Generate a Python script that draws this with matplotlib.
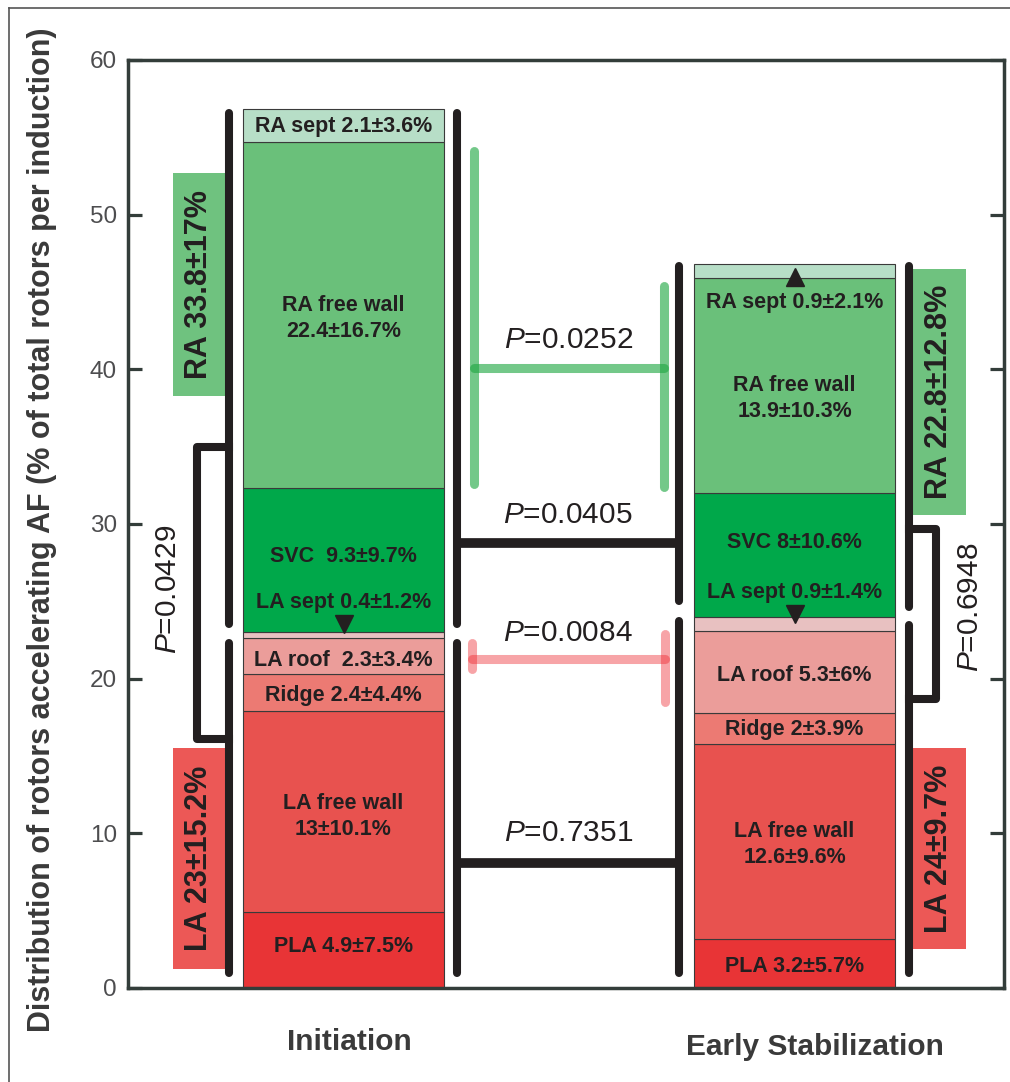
import matplotlib
matplotlib.use('Agg')
import matplotlib.pyplot as plt
from matplotlib.lines import Line2D

plt.rcParams['font.family'] = ['Liberation Sans', 'DejaVu Sans']
plt.rcParams['mathtext.fontset'] = 'custom'
plt.rcParams['mathtext.it'] = 'Liberation Sans:italic'
plt.rcParams['mathtext.rm'] = 'Liberation Sans'

# stacked segments, bottom to top
segments = ['PLA', 'LA free wall', 'Ridge', 'LA roof', 'LA sept', 'SVC', 'RA free wall', 'RA sept']
initiation = [4.9, 13, 2.4, 2.3, 0.4, 9.3, 22.4, 2.1]
early_stab = [3.2, 12.6, 2.0, 5.3, 0.9, 8.0, 13.9, 0.9]
seg_colors = ['#e83436', '#e8524f', '#ec7a73', '#eb9d9a', '#e8c1c1', '#00a84a', '#6ac07a', '#b7dec7']

init_labels = ['PLA 4.9±7.5%', 'LA free wall\n13±10.1%', 'Ridge 2.4±4.4%', 'LA roof  2.3±3.4%',
               'LA sept 0.4±1.2%', 'SVC  9.3±9.7%', 'RA free wall\n22.4±16.7%', 'RA sept 2.1±3.6%']
init_label_y = [2.7, 11.1, 18.9, 21.2, 24.9, 27.9, 43.3, 55.7]
early_labels = ['PLA 3.2±5.7%', 'LA free wall\n12.6±9.6%', 'Ridge 2±3.9%', 'LA roof 5.3±6%',
                'LA sept 0.9±1.4%', 'SVC 8±10.6%', 'RA free wall\n13.9±10.3%', 'RA sept 0.9±2.1%']
early_label_y = [1.4, 9.3, 16.7, 20.2, 25.6, 28.8, 38.1, 44.3]

groups = ['Initiation', 'Early Stabilization']

# atrium totals
ra_text = ['RA 33.8±17%', 'RA 22.8±12.8%']
ra_span = [(38.3, 52.7), (30.6, 46.5)]
la_text = ['LA 23±15.2%', 'LA 24±9.7%']
la_span = [(1.2, 15.5), (2.5, 15.5)]

# p values
p_between = ['0.0252', '0.0405', '0.0084', '0.7351']
p_within = ['0.0429', '0.6948']

INK = '#231f20'
SPINE = '#333d3a'

fig = plt.figure(figsize=(10.1, 10.82), dpi=100)
ax = fig.add_axes([128 / 1010, 94 / 1082, 876 / 1010, 928 / 1082])
ax.set_xlim(-0.478, 1.4645)
ax.set_ylim(0, 60)

# stacked bars
width = 0.446
for xi, vals in enumerate([initiation, early_stab]):
    bottom = 0
    for v, c in zip(vals, seg_colors):
        ax.bar(xi, v, width, bottom=bottom, color=c, edgecolor='#3a3a3a', linewidth=0.8, zorder=2)
        bottom += v

for lab, y in zip(init_labels, init_label_y):
    ax.text(0, y, lab, ha='center', va='center', fontsize=15.5, fontweight='bold', color=INK, zorder=4,
            linespacing=1.3)
for lab, y in zip(early_labels, early_label_y):
    ax.text(1, y, lab, ha='center', va='center', fontsize=15.5, fontweight='bold', color=INK, zorder=4,
            linespacing=1.3)

# small arrows
ax.plot(0, 23.55, marker='v', ms=13, color=INK, zorder=5)
ax.plot(1, 46.0, marker='^', ms=13, color=INK, zorder=5)
ax.plot(1, 24.2, marker='v', ms=13, color=INK, zorder=5)

# black brackets beside bars
lw = 5.8
def vline(x, y0, y1, **kw):
    ax.plot([x, x], [y0, y1], color=INK, lw=lw, solid_capstyle='round', zorder=3, **kw)

vline(-0.254, 23.55, 56.6)
vline(-0.254, 0.95, 22.3)
vline(0.252, 23.55, 56.6)
vline(0.252, 0.95, 22.3)
vline(0.744, 25.05, 46.7)
vline(0.744, 0.95, 23.75)
vline(1.254, 24.65, 46.7)
vline(1.254, 0.95, 23.45)

# black connectors between groups
ax.plot([0.252, 0.744], [28.77, 28.77], color=INK, lw=7, solid_capstyle='butt', zorder=3)
ax.plot([0.252, 0.744], [8.1, 8.1], color=INK, lw=7, solid_capstyle='butt', zorder=3)

# green connector (RA free wall)
gc, ga = '#22a844', 0.63
ax.plot([0.289, 0.289], [32.6, 54.1], color=gc, alpha=ga, lw=6.5, solid_capstyle='round', zorder=3)
ax.plot([0.711, 0.711], [32.4, 45.4], color=gc, alpha=ga, lw=6.5, solid_capstyle='round', zorder=3)
ax.plot([0.289, 0.711], [40.1, 40.1], color=gc, alpha=ga, lw=6.5, solid_capstyle='round', zorder=3)

# pink connector (LA roof)
pc, pa = '#ed1c24', 0.4
ax.plot([0.285, 0.285], [20.6, 22.3], color=pc, alpha=pa, lw=6.5, solid_capstyle='round', zorder=3)
ax.plot([0.713, 0.713], [18.5, 22.9], color=pc, alpha=pa, lw=6.5, solid_capstyle='round', zorder=3)
ax.plot([0.285, 0.713], [21.3, 21.3], color=pc, alpha=pa, lw=6.5, solid_capstyle='round', zorder=3)

pfont = dict(fontsize=21.5, color=INK, ha='center', va='center')
for p, y in zip(p_between, [41.9, 30.6, 22.95, 10.0]):
    ax.text(0.498, y, r'$\mathit{P}$=' + p, **pfont)

# within-group brackets
ax.plot([-0.254, -0.325, -0.325, -0.254], [35.0, 35.0, 16.1, 16.1], color=INK, lw=lw,
        solid_joinstyle='round', zorder=3)
ax.plot([1.254, 1.314, 1.314, 1.254], [29.7, 29.7, 18.7, 18.7], color=INK, lw=lw,
        solid_joinstyle='round', zorder=3)
ax.text(-0.389, 25.8, r'$\mathit{P}$=' + p_within[0], rotation=90, **pfont)
ax.text(1.389, 24.6, r'$\mathit{P}$=' + p_within[1], rotation=90, **pfont)

# RA / LA total boxes
box_x = [(-0.378, -0.263), (1.262, 1.380)]
for (x0, x1), (r0, r1), rt, (l0, l1), lt in zip(box_x, ra_span, ra_text, la_span, la_text):
    ax.fill_between([x0, x1], r0, r1, color='#6fc27f', lw=0, zorder=1)
    ax.fill_between([x0, x1], l0, l1, color='#ec5856', lw=0, zorder=1)
    xc = (x0 + x1) / 2
    ax.text(xc, (r0 + r1) / 2, rt, rotation=90, ha='center', va='center', fontsize=22,
            fontweight='bold', color=INK, zorder=4)
    ax.text(xc, (l0 + l1) / 2, lt, rotation=90, ha='center', va='center', fontsize=22,
            fontweight='bold', color=INK, zorder=4)

# group labels
for xi, g, y in zip([0, 1], groups, [-3.5, -3.8]):
    ax.text(xi + 0.013 if xi == 0 else xi + 0.045, y, g, ha='center', va='center', fontsize=21.5,
            fontweight='bold', color='#3a3a3a', clip_on=False)

# axes styling
ax.set_xticks([])
ax.set_yticks(range(0, 61, 10))
ax.tick_params(axis='y', direction='in', length=10, width=2.3, color=SPINE, labelsize=17.5,
               labelcolor='#4d4d4f', right=True, pad=8)
for s in ax.spines.values():
    s.set_color(SPINE)
    s.set_linewidth(2.5)

fig.text(42 / 1010, 1 - 530 / 1082,
         'Distribution of rotors accelerating AF (% of total rotors per induction)',
         rotation=90, ha='center', va='center', fontsize=22, fontweight='bold', color='#3a3a3a')

# outer frame
fig.add_artist(Line2D([9 / 1010, 9 / 1010], [0, 1 - 8 / 1082], color='#555555', lw=1.2))
fig.add_artist(Line2D([9 / 1010, 1], [1 - 8 / 1082, 1 - 8 / 1082], color='#555555', lw=1.2))

fig.savefig('out.png', dpi=100)
